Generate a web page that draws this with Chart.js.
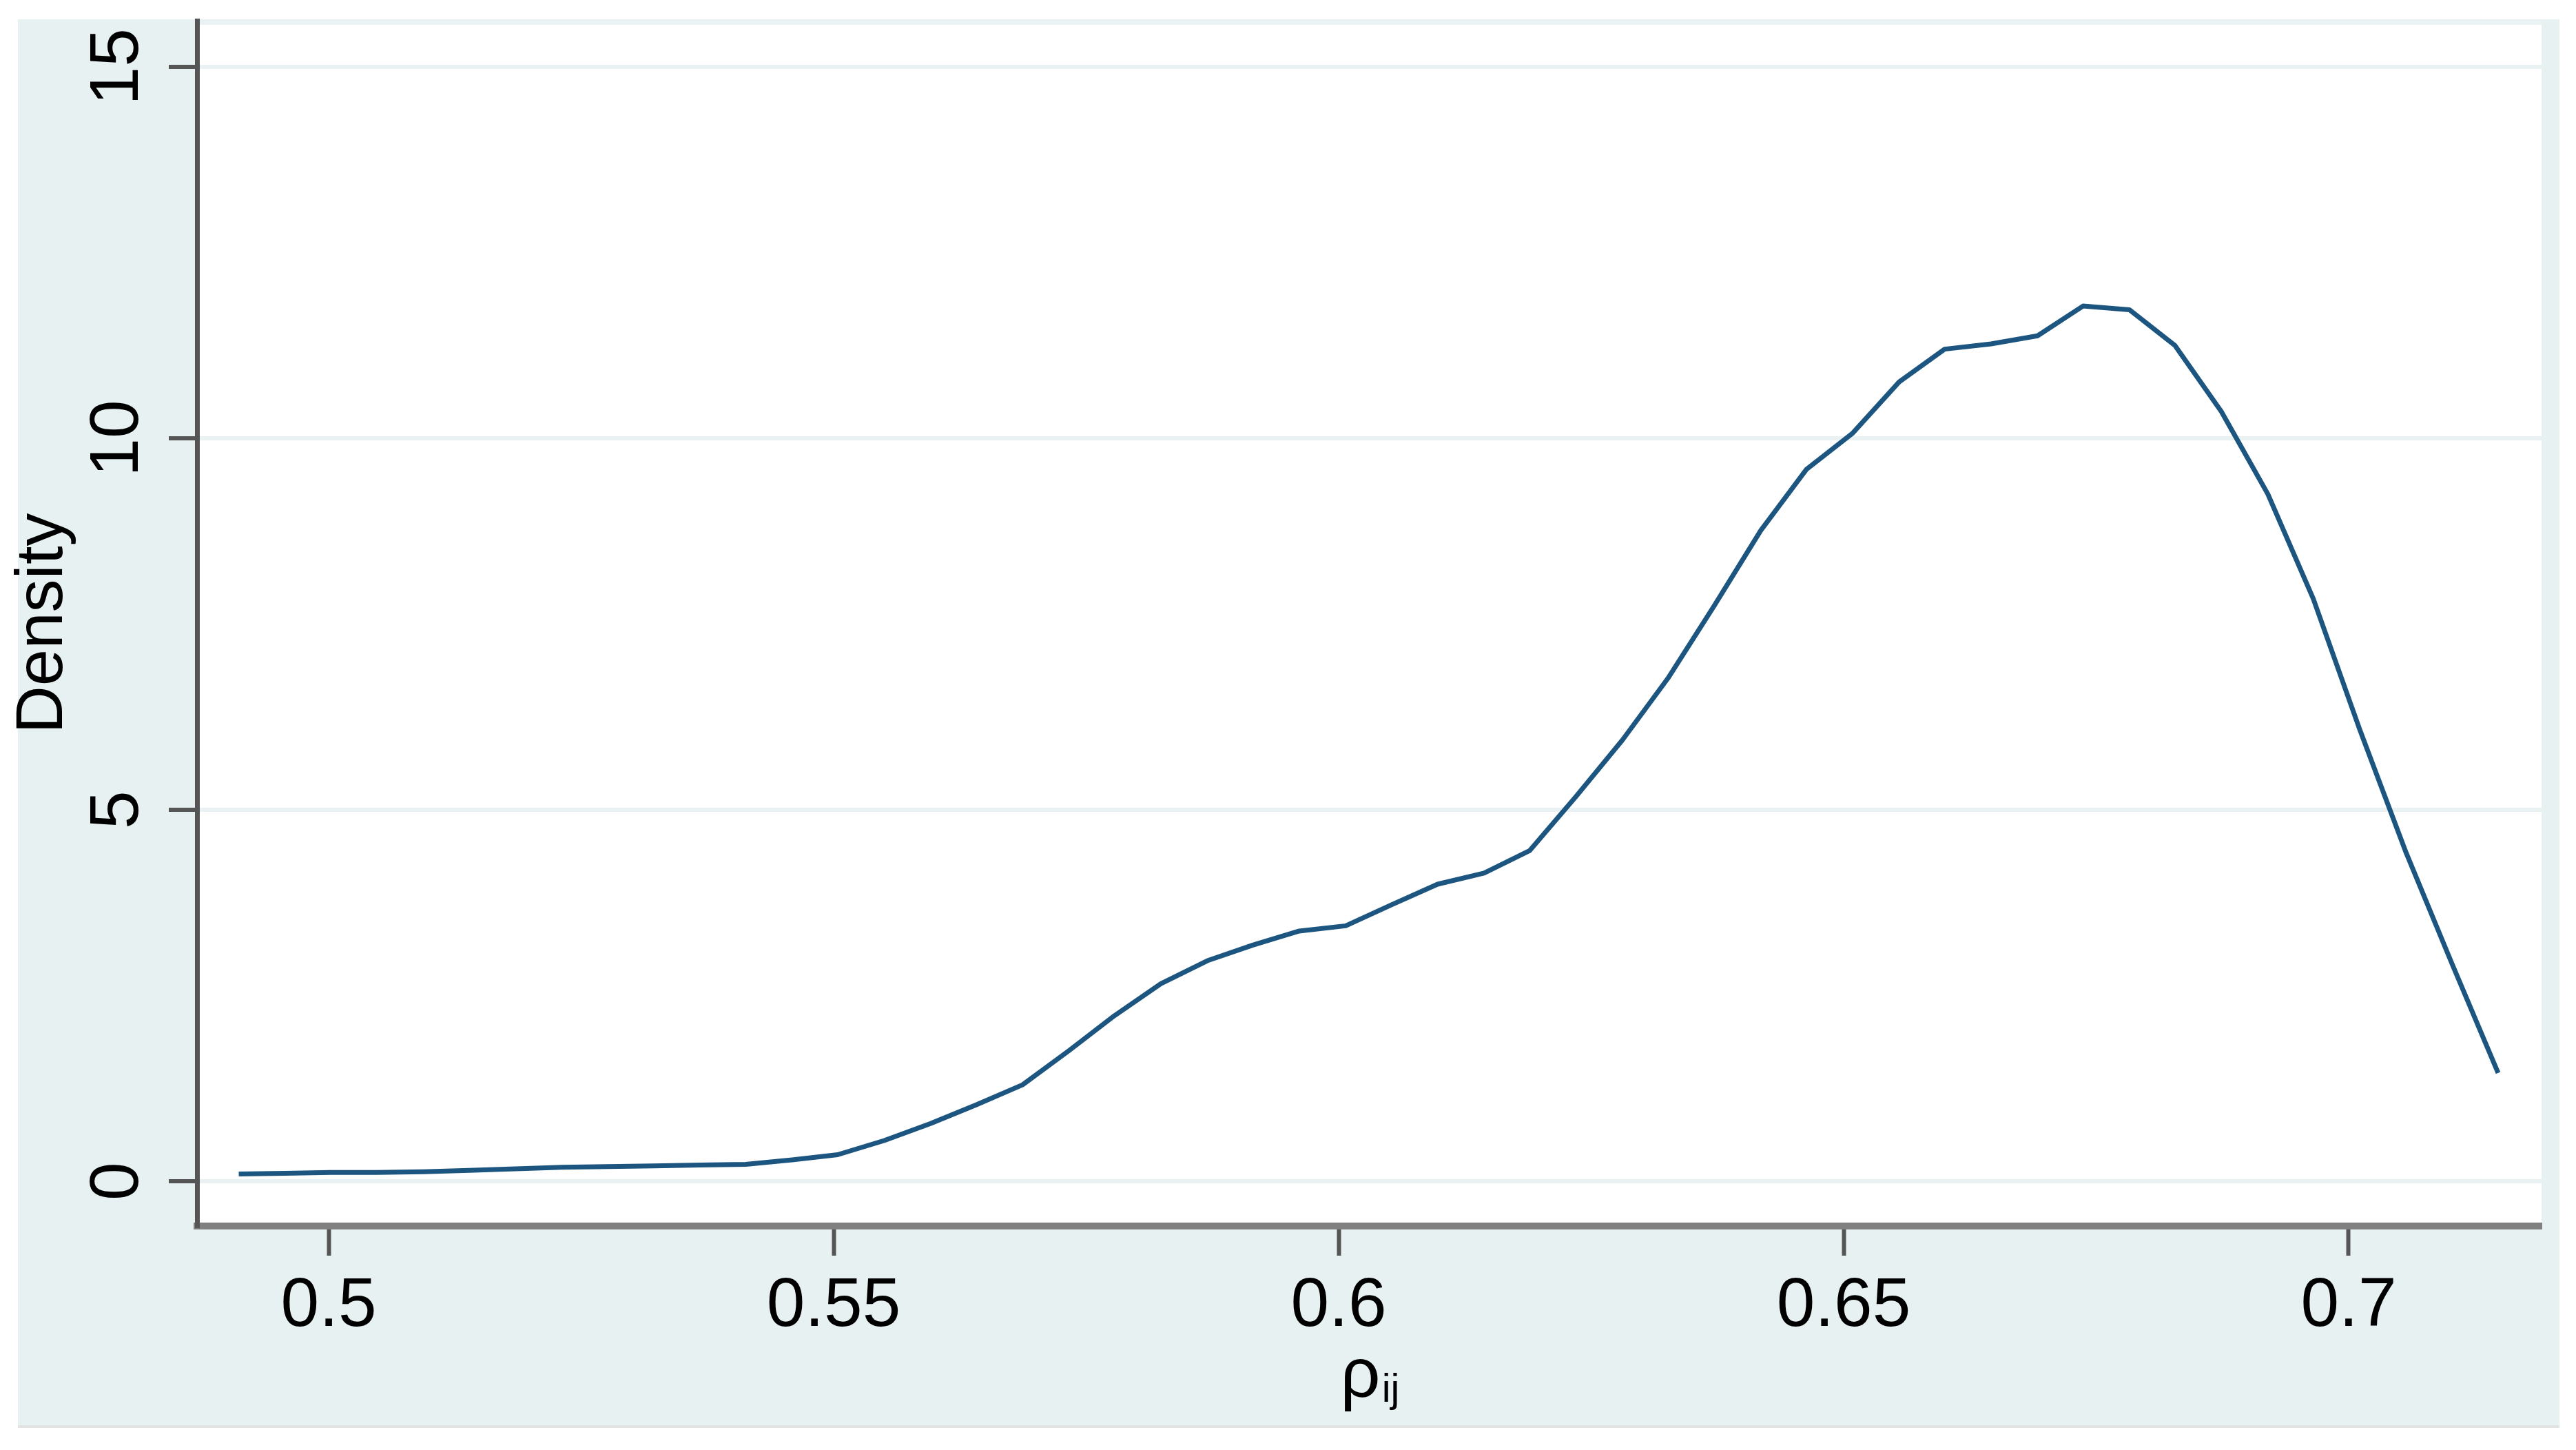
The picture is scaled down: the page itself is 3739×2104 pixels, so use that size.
<!DOCTYPE html>
<html>
<head>
<meta charset="utf-8">
<style>
html,body{margin:0;padding:0;background:#ffffff;}
#wrap{width:3739px;height:2104px;position:relative;}
canvas{display:block;}
</style>
<script src="https://cdn.jsdelivr.net/npm/chart.js@4.4.1/dist/chart.umd.min.js"></script>
</head>
<body>
<div id="wrap"><canvas id="c" width="3739" height="2104"></canvas></div>
<script>
// ---- data ----
const rhoValues = [0.4911,0.4957,0.5002,0.5048,0.5094,0.5139,0.5185,0.5231,0.5276,0.5322,
                   0.5368,0.5413,0.5459,0.5504,0.5550,0.5596,0.5641,0.5687,0.5733,0.5778,
                   0.5824,0.5870,0.5915,0.5961,0.6007,0.6052,0.6098,0.6144,0.6189,0.6235,
                   0.6281,0.6326,0.6372,0.6418,0.6463,0.6509,0.6555,0.6600,0.6646,0.6692,
                   0.6737,0.6783,0.6828,0.6874,0.6920,0.6965,0.7011,0.7057,0.7102,0.7148];
const densityValues = [0.10,0.11,0.12,0.12,0.13,0.15,0.17,0.19,0.20,0.21,
                       0.22,0.23,0.29,0.36,0.55,0.78,1.03,1.30,1.76,2.23,
                       2.66,2.97,3.18,3.37,3.44,3.72,4.00,4.15,4.45,5.18,
                       5.94,6.77,7.75,8.76,9.58,10.07,10.76,11.20,11.27,11.38,
                       11.78,11.73,11.25,10.36,9.25,7.84,6.08,4.42,2.94,1.46];
const xTickValues = [0.5, 0.55, 0.6, 0.65, 0.7];
const xTickLabels = ['0.5', '0.55', '0.6', '0.65', '0.7'];
const yTickValues = [0, 5, 10, 15];
const yTickLabels = ['0', '5', '10', '15'];
const yAxisTitle = 'Density';
const xAxisTitleMain = 'ρ';
const xAxisTitleSub = 'ij';

const FONT = '"Liberation Sans", Arial, Helvetica, sans-serif';

const backgroundPlugin = {
  id: 'stataBackground',
  beforeDraw(chart) {
    const ctx = chart.ctx;
    const ca = chart.chartArea;
    ctx.save();
    ctx.fillStyle = '#ffffff';
    ctx.fillRect(0, 0, chart.width, chart.height);
    ctx.fillStyle = '#e7f1f2';
    ctx.fillRect(26, 28, 3689, 2040);
    ctx.fillStyle = '#e2e4e4';
    ctx.fillRect(26, 2068, 3689, 4);
    ctx.fillStyle = '#ffffff';
    ctx.fillRect(ca.left, ca.top, ca.right - ca.left, ca.bottom - ca.top);
    ctx.fillStyle = '#eaf2f4';
    ctx.fillRect(ca.left, ca.top, ca.right - ca.left, 6);
    ctx.restore();
  }
};

const xTitlePlugin = {
  id: 'xTitleWithSubscript',
  afterDraw(chart) {
    const ctx = chart.ctx;
    const xs = chart.scales.x;
    const cx = (xs.left + xs.right) / 2;
    ctx.save();
    ctx.fillStyle = '#000000';
    ctx.textBaseline = 'alphabetic';
    ctx.textAlign = 'left';
    ctx.font = '102px ' + FONT;
    const wMain = ctx.measureText(xAxisTitleMain).width;
    ctx.font = '58px ' + FONT;
    const wSub = ctx.measureText(xAxisTitleSub).width;
    const start = cx - (wMain + wSub) / 2;
    ctx.font = '102px ' + FONT;
    ctx.fillText(xAxisTitleMain, start, 2027);
    ctx.font = '58px ' + FONT;
    ctx.fillText(xAxisTitleSub, start + wMain + 2, 2034);
    ctx.restore();
  }
};

function zeroPadding(s) {
  s.paddingTop = 0; s.paddingBottom = 0; s.paddingLeft = 0; s.paddingRight = 0;
}

new Chart(document.getElementById('c'), {
  type: 'line',
  data: {
    datasets: [{
      data: rhoValues.map((r, i) => ({ x: r, y: densityValues[i] })),
      borderColor: '#1b5580',
      borderWidth: 7,
      pointRadius: 0,
      tension: 0,
      fill: false,
      borderJoinStyle: 'round'
    }]
  },
  options: {
    responsive: false,
    animation: false,
    devicePixelRatio: 1,
    layout: { padding: { left: 0, top: 30, right: 50, bottom: 0 } },
    plugins: { legend: { display: false }, tooltip: { enabled: false }, title: { display: false } },
    scales: {
      x: {
        type: 'linear',
        min: 0.48697,
        max: 0.7191,
        afterBuildTicks: s => { s.ticks = xTickValues.map(v => ({ value: v })); },
        afterFit: s => { s.height = 325; zeroPadding(s); },
        grid: { drawOnChartArea: false, drawTicks: true, tickLength: 43, tickWidth: 6, tickColor: '#555555' },
        border: { display: true, color: '#808080', width: 10 },
        ticks: {
          autoSkip: false, maxRotation: 0, minRotation: 0, padding: 14,
          color: '#000000', font: { family: FONT, size: 100 },
          callback: (v, i) => xTickLabels[i]
        },
        title: { display: false }
      },
      y: {
        type: 'linear',
        min: -0.6,
        max: 15.62,
        afterBuildTicks: s => { s.ticks = yTickValues.map(v => ({ value: v })); },
        afterFit: s => { s.width = 286; zeroPadding(s); },
        grid: { color: '#e9f1f3', lineWidth: 6, drawTicks: true, tickLength: 41, tickWidth: 6, tickColor: '#555555' },
        border: { display: true, color: '#555555', width: 7 },
        ticks: {
          autoSkip: false, minRotation: 90, maxRotation: 90, crossAlign: 'center', padding: 17,
          color: '#000000', font: { family: FONT, size: 100 },
          callback: (v, i) => yTickLabels[i]
        },
        title: {
          display: true, text: yAxisTitle, color: '#000000',
          font: { family: FONT, size: 96 }, padding: { top: 6, bottom: 0 }
        }
      }
    }
  },
  plugins: [backgroundPlugin, xTitlePlugin]
});
</script>
</body>
</html>
